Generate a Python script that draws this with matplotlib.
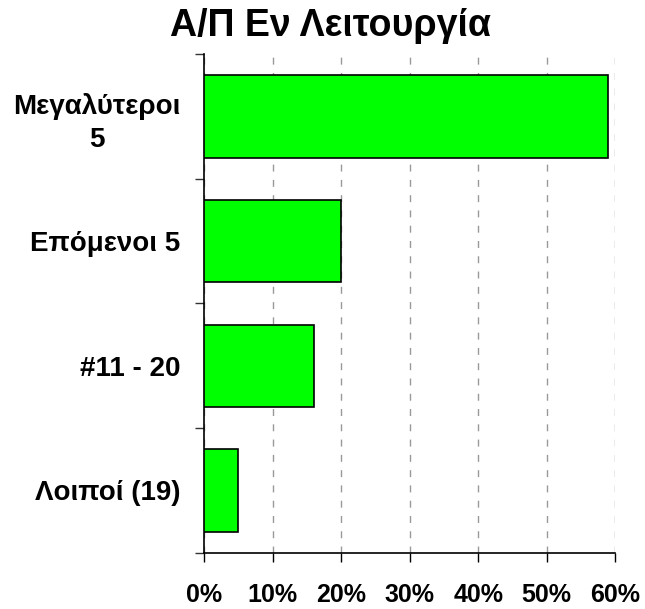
import matplotlib
matplotlib.use("Agg")
import matplotlib.pyplot as plt
import numpy as np

title = "Α/Π Εν Λειτουργία"
categories = ["Μεγαλύτεροι\n5", "Επόμενοι 5", "#11 - 20", "Λοιποί (19)"]
values = [59, 20, 16, 5]
xticks = [0, 10, 20, 30, 40, 50, 60]
xticklabels = ["0%", "10%", "20%", "30%", "40%", "50%", "60%"]

plt.rcParams['font.family'] = ['Liberation Sans', 'DejaVu Sans']
plt.rcParams['font.weight'] = 'bold'

fig = plt.figure(figsize=(6.45, 6.09), dpi=100)
ax = fig.add_axes([0.3163, 0.0924, 0.6377, 0.8189])

y = np.arange(len(categories))
ax.barh(y, values, height=0.66, color='#00ff00', edgecolor='black', linewidth=1.2, zorder=3)

ax.set_ylim(len(categories) - 0.5, -0.5)
ax.set_xlim(0, 60)

ax.set_xticks(xticks)
ax.set_xticklabels(xticklabels, fontsize=18, fontweight='bold')
ax.tick_params(axis='x', direction='out', length=6.5, width=1, pad=15, colors='black')

ax.set_yticks(y)
ax.set_yticklabels(categories, fontsize=20, fontweight='bold', ha='right',
                   multialignment='center', linespacing=1.35)
ax.set_yticks(np.arange(-0.5, len(categories), 1.0), minor=True)
ax.tick_params(axis='y', which='major', length=0, pad=17)
ax.tick_params(axis='y', which='minor', length=6.5, width=1, color='#333333')

ax.grid(axis='x', color='#999999', linestyle=(0, (5, 6)), linewidth=1, zorder=0)
ax.set_axisbelow(True)

for s in ['top', 'right']:
    ax.spines[s].set_visible(False)
for s in ['left', 'bottom']:
    ax.spines[s].set_linewidth(1.2)

fig.text(0.513, 0.957, title, ha='center', va='center', fontsize=27, fontweight='bold')

fig.savefig("out.png", dpi=100)
